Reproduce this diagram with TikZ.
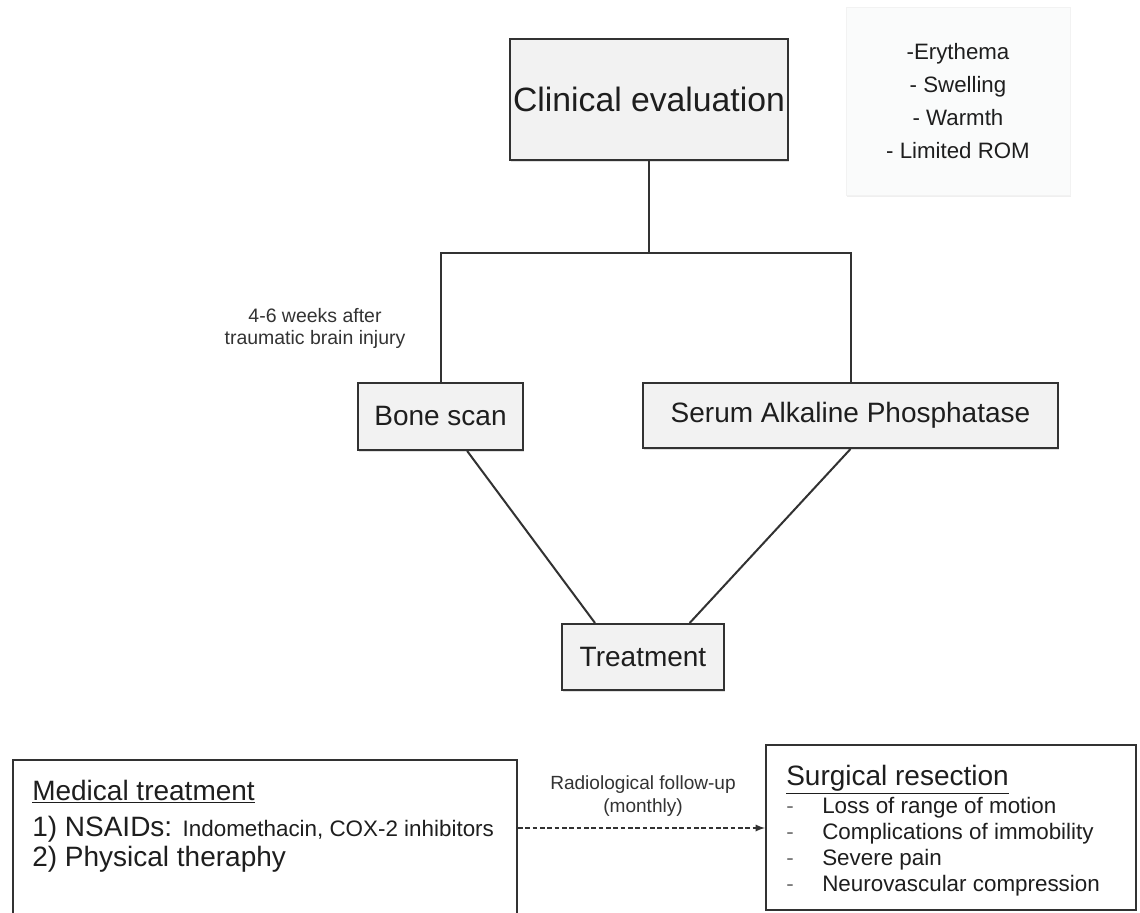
\documentclass[tikz,border=0pt]{standalone}
\usepackage{fontspec}
\setmainfont{Liberation Sans}
\usepackage{tikz}
\usetikzlibrary{arrows,positioning,shadows}
\definecolor{boxgray}{RGB}{242,242,242}
\definecolor{notegray}{RGB}{250,251,251}
\definecolor{inkgray}{RGB}{30,30,30}
\definecolor{edgegray}{RGB}{50,50,50}
\tikzstyle{flowbox}=[draw=edgegray,fill=boxgray,line width=1.5pt,inner sep=0pt,text=inkgray,
  drop shadow={shadow xshift=0.8pt,shadow yshift=-1.8pt,opacity=0.25}]
\tikzstyle{listbox}=[draw=edgegray,fill=white,line width=1.5pt,inner sep=0pt]
\tikzstyle{notebox}=[draw=black!5,fill=notegray,inner sep=0pt,text=inkgray,align=center,
  drop shadow={shadow xshift=0.6pt,shadow yshift=-1.5pt,opacity=0.12}]
\tikzstyle{link}=[draw=edgegray,line width=1.5pt]
\tikzstyle{smalltext}=[inner sep=0pt,align=center,text=black!80]

\begin{document}
\begin{tikzpicture}[x=0.75pt,y=-0.75pt]
\useasboundingbox (0,0) rectangle (1140,913);
\clip (0,0) rectangle (1140,913);
\fill[white] (0,0) rectangle (1140,913);

% top of the chart
\node [flowbox,minimum width=208.5pt,minimum height=90.75pt,font=\fontsize{25.3}{30}\selectfont]
  (clinical) at (649,99.5) {Clinical evaluation};
\node [notebox,minimum width=168pt,minimum height=141pt,font=\fontsize{16.7}{24.75}\selectfont]
  (signs) at (958,101) {-Erythema\\ - Swelling\\ - Warmth\\ - Limited ROM};

% work-up
\node [flowbox,minimum width=123.75pt,minimum height=50.25pt,font=\fontsize{21}{25}\selectfont]
  (bone) at (440.5,416.5) {Bone scan};
\node [flowbox,minimum width=311.25pt,minimum height=48.75pt,font=\fontsize{21}{25}\selectfont]
  (serum) at (850.5,415.5) {Serum Alkaline Phosphatase};
\node [smalltext,font=\fontsize{14.6}{16.5}\selectfont]
  (delay) at (315,328) {4-6 weeks after\\traumatic brain injury};
\node [flowbox,minimum width=121.5pt,minimum height=49.5pt,font=\fontsize{21}{25}\selectfont]
  (treatment) at (643,657) {Treatment};

\coordinate (split) at (649,253);
\draw [link] (clinical.south) -- (split);
\draw [link] (bone.north) |- (split) -| (serum.north);
\draw [link] ([xshift=20pt]bone.south) -- ([xshift=-36pt]treatment.north);
\draw [link] (serum.south) -- ([xshift=35pt]treatment.north);

% options
\node [listbox,anchor=north west,minimum width=378pt,minimum height=150pt] (medical) at (12,759) {};
\node [anchor=north west,inner sep=0pt,align=left,text=inkgray,font=\fontsize{21}{25}\selectfont]
  (medtext) [below right=15.4pt and 15pt of medical.north west]
  {\underline{Medical treatment}\\[2pt]
   1) NSAIDs: {\fontsize{16.8}{20}\selectfont Indomethacin, COX-2 inhibitors}\\[-2pt]
   2) Physical theraphy};

\node [listbox,minimum width=277.5pt,minimum height=123.75pt] (surgical) at (951,827.5) {};
\node [anchor=north west,inner sep=0pt,align=left,text=inkgray,font=\fontsize{16.8}{19.5}\selectfont]
  (surgtext) [below right=16pt and 15.75pt of surgical.north west]
  {{\fontsize{21}{25}\selectfont\underline{Surgical resection}}\\[1pt]
   \makebox[27pt][l]{\textcolor{black!55}{-}}Loss of range of motion\\
   \makebox[27pt][l]{\textcolor{black!55}{-}}Complications of immobility\\
   \makebox[27pt][l]{\textcolor{black!55}{-}}Severe pain\\
   \makebox[27pt][l]{\textcolor{black!55}{-}}Neurovascular compression};

\coordinate (fu) at (640,828);
\draw [link,line width=1.4pt,dash pattern=on 3.5pt off 2pt,-latex] (medical.east |- fu) -- (surgical.west |- fu);
\node [smalltext,font=\fontsize{14.3}{17.25}\selectfont]
  (followup) at (643,796.5) {Radiological follow-up\\(monthly)};
\end{tikzpicture}
\end{document}
